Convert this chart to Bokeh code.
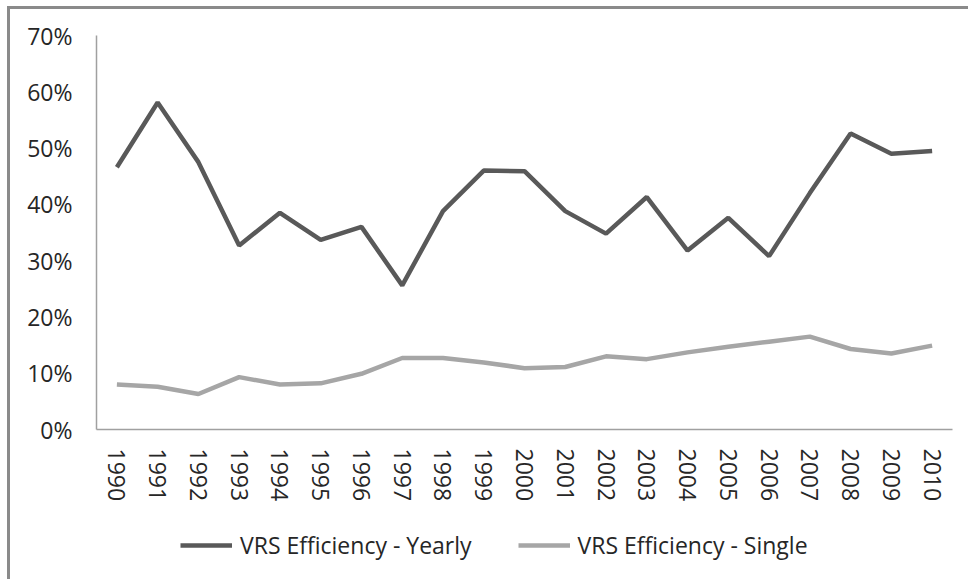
from bokeh.plotting import figure
from bokeh.layouts import column
from bokeh.models import FactorRange, Range1d, FixedTicker, NumeralTickFormatter, Legend, LegendItem, ColumnDataSource
from bokeh.embed import file_html
from bokeh.resources import INLINE

years = [str(y) for y in range(1990, 2011)]
yearly = [0.466, 0.581, 0.475, 0.327, 0.385, 0.337, 0.360, 0.256, 0.388, 0.460,
          0.459, 0.388, 0.348, 0.413, 0.318, 0.376, 0.308, 0.420, 0.526, 0.490, 0.495]
single = [0.080, 0.076, 0.063, 0.093, 0.080, 0.082, 0.099, 0.127, 0.127, 0.119,
          0.109, 0.111, 0.130, 0.125, 0.137, 0.147, 0.156, 0.165, 0.143, 0.135, 0.149]
y_ticks = [0, 0.1, 0.2, 0.3, 0.4, 0.5, 0.6, 0.7]
names = ["VRS Efficiency - Yearly", "VRS Efficiency - Single"]
colors = ["#595959", "#a6a6a6"]

src = ColumnDataSource(dict(year=years, yearly=yearly, single=single))

FONT = "Open Sans"
FS = "23px"

p = figure(width=958, height=507, x_range=FactorRange(factors=years, range_padding=0),
           y_range=Range1d(0, 0.7), output_backend="svg", toolbar_location=None,
           min_border_left=86, min_border_right=16, min_border_top=26, min_border_bottom=87)
p.outline_line_color = None
p.grid.grid_line_color = None

p.line("year", "yearly", source=src, line_color=colors[0], line_width=4.5)
p.line("year", "single", source=src, line_color=colors[1], line_width=4.5)

for ax in (p.xaxis[0], p.yaxis[0]):
    ax.axis_line_color = "#a0a0a0"
    ax.axis_line_width = 1.5
    ax.major_tick_line_color = None
    ax.minor_tick_line_color = None
    ax.major_label_text_font = FONT
    ax.major_label_text_font_size = FS
    ax.major_label_text_color = "#262626"

p.yaxis[0].ticker = FixedTicker(ticks=y_ticks)
p.yaxis[0].formatter = NumeralTickFormatter(format="0%")
p.yaxis[0].major_label_standoff = 18
p.xaxis[0].major_label_orientation = "vertical"
p.xaxis[0].major_label_standoff = 13

# legend strip below the chart (series drawn off-range so only the legend shows)
p2 = figure(width=958, height=63, x_range=FactorRange(factors=years, range_padding=0),
            y_range=Range1d(5, 6),
            output_backend="svg", toolbar_location=None,
            x_axis_location=None, y_axis_location=None,
            min_border_left=0, min_border_right=0, min_border_top=0, min_border_bottom=0)
p2.outline_line_color = None
p2.grid.grid_line_color = None
k1 = p2.line("year", "yearly", source=src, line_color=colors[0], line_width=4.5)
k2 = p2.line("year", "single", source=src, line_color=colors[1], line_width=4.5)

legend = Legend(items=[LegendItem(label=names[0], renderers=[k1]),
                       LegendItem(label=names[1], renderers=[k2])],
                orientation="horizontal", location=(84, 18),
                label_text_font=FONT, label_text_font_size=FS, label_text_color="#262626",
                glyph_width=52, label_standoff=8, spacing=46,
                border_line_color=None, background_fill_alpha=0, margin=0, padding=8)
p2.add_layout(legend, "center")

layout = column(p, p2, spacing=0,
                styles={"border-left": "3px solid #8a8a8a", "border-top": "3px solid #8a8a8a",
                        "margin-left": "7px", "margin-top": "6px"})

open("out.html", "w").write(file_html(layout, INLINE))
